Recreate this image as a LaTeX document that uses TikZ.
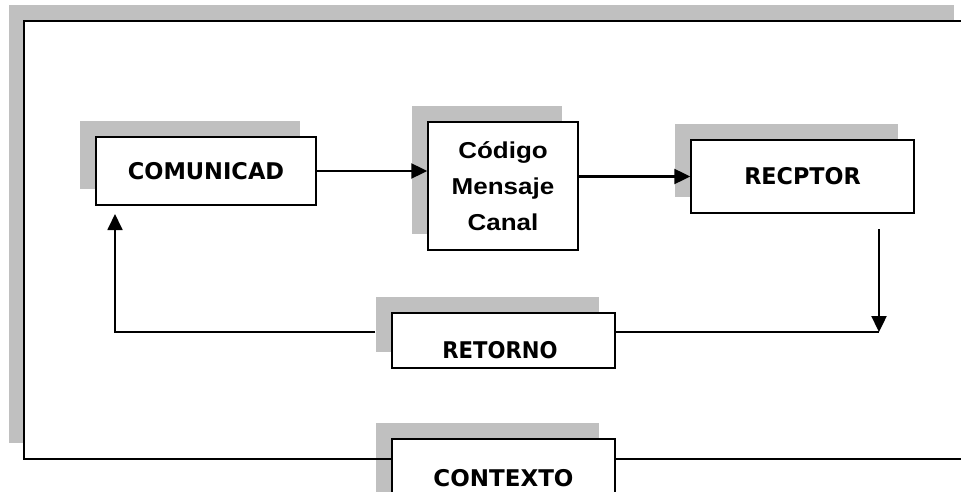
\documentclass[tikz,border=0pt]{standalone}
\usepackage{fontspec}
\usepackage{graphicx}
\usepackage{tikz}
\usetikzlibrary{arrows.meta,shadows}
\newfontfamily\cajafont{DejaVu Sans}
\newfontfamily\negrita{Liberation Sans}
\definecolor{sombra}{RGB}{192,192,192}
\newcommand{\estira}[2]{\scalebox{#1}[1]{#2}}

\begin{document}
\begin{tikzpicture}[x=1pt,y=-1pt,
    caja/.style={draw, line width=1.5pt, fill=white, inner sep=0pt,
        general shadow={fill=sombra, shadow xshift=-16pt, shadow yshift=16pt}},
    rotulo/.style={font=\cajafont\bfseries\fontsize{23}{28}\selectfont},
    linea/.style={line width=1.8pt},
    punta/.style={-{Triangle[length=16pt,width=15pt]}},
    flecha/.style={line width=2.4pt, punta}]

\useasboundingbox (0,0) rectangle (961,492);
\clip (0,0) rectangle (961,492);

% Marco exterior con sombra
\coordinate (mi) at (24,21);
\coordinate (md) at (970,459);
\fill[sombra] (9,5) rectangle (954,443);
\fill[white] (mi) rectangle (md);

% Cajas
\node[caja, rotulo, minimum width=220pt, minimum height=68pt] (comunicad) at (206,171)
    {\estira{0.98}{COMUNICAD}};
\node[caja, font=\negrita\bfseries\fontsize{23}{36}\selectfont, align=center,
      minimum width=150pt, minimum height=128pt] (codigo) at (503,186)
    {\estira{1.13}{Código}\\\estira{1.13}{Mensaje}\\\estira{1.13}{Canal}};
\node[caja, rotulo, minimum width=223pt, minimum height=73pt] (receptor) at (802.5,176.5)
    {\estira{0.97}{RECPTOR}};
\node[caja, minimum width=223pt, minimum height=55pt] (retorno) at (503.5,340.5) {};
\begin{scope}
    \clip (392,313) rectangle (615,358);
    \node[rotulo] (retornotxt) at (500,350.5) {\estira{0.92}{RETORNO}};
\end{scope}
\node[caja, rotulo, minimum width=223pt, minimum height=79pt] (contexto) at (503.5,478.5)
    {CONTEXTO};

% Flechas
\coordinate (bajada) at (879,229);
\coordinate (esquina) at (115,332);
\coordinate (subida) at (115,214);
\draw[flecha] (comunicad.east) -- (comunicad.east -| codigo.west);
\draw[flecha] (codigo.east |- receptor.west) -- (receptor.west);
\draw[flecha] (bajada) -- (bajada |- esquina);
\draw[linea] (retorno.east |- esquina) -- (bajada |- esquina);
\draw[linea, punta] ([xshift=-16pt]retorno.west |- esquina) -- (esquina) -- (subida);

% Borde del marco
\draw[line width=1.2pt] (contexto.west |- md) -- (mi |- md) -- (mi) -- (md |- mi)
    -- (md) -- (contexto.east |- md);
\end{tikzpicture}
\end{document}
